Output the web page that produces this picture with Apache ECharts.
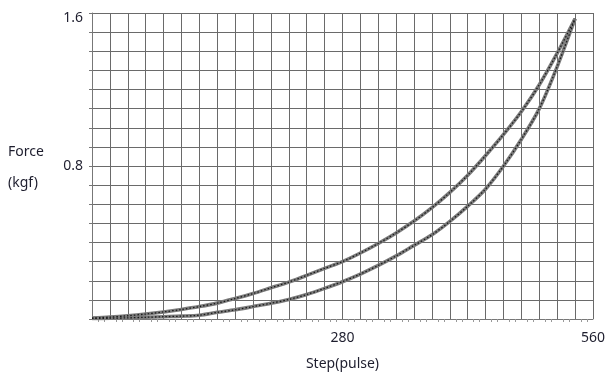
<!DOCTYPE html>
<html>
<head>
<meta charset="utf-8">
<script src="https://cdn.jsdelivr.net/npm/echarts@6/dist/echarts.min.js"></script>
<style>
  html, body { margin: 0; padding: 0; background: #fff; }
  #chart { width: 608px; height: 376px; }
</style>
</head>
<body>
<div id="chart"></div>
<script>
// Step positions (pulse) at which force was sampled
const steps = [0, 20, 40, 60, 80, 100, 120, 140, 160, 180, 200, 220, 240, 260,
               280, 300, 320, 340, 360, 380, 400, 420, 440, 460, 480, 500, 520, 540];
// Upper branch of the force loop (kgf)
const forceUpper = [0.005, 0.010, 0.017, 0.026, 0.037, 0.050, 0.065, 0.083, 0.107, 0.133,
                    0.163, 0.193, 0.228, 0.265, 0.300, 0.345, 0.395, 0.450, 0.512, 0.582,
                    0.662, 0.752, 0.855, 0.965, 1.085, 1.225, 1.390, 1.570];
// Lower branch of the force loop (kgf)
const forceLower = [0.003, 0.004, 0.006, 0.009, 0.012, 0.015, 0.020, 0.035, 0.048, 0.065,
                    0.082, 0.102, 0.128, 0.160, 0.195, 0.235, 0.280, 0.330, 0.385, 0.440,
                    0.510, 0.590, 0.680, 0.800, 0.940, 1.100, 1.320, 1.570];
// Axis labels that are printed
const xLabels = [280, 560];
const yLabels = [0.8, 1.6];

const pairs = arr => steps.map((s, i) => [s, arr[i]]);
const labelFont = { fontFamily: 'Noto Sans', fontSize: 14, color: '#1e1e2e' };

function curve(name, arr) {
  return [
    { name: name, type: 'line', data: pairs(arr), showSymbol: false, smooth: 0.3,
      lineStyle: { color: '#7c7c7c', width: 3.6 }, z: 3, animation: false },
    { name: name + '-dots', type: 'line', data: pairs(arr), showSymbol: false, smooth: 0.3,
      lineStyle: { color: '#1a1a1a', width: 1.3, type: [1.5, 2] }, z: 4, animation: false }
  ];
}

const chart = echarts.init(document.getElementById('chart'), null, { renderer: 'canvas' });
chart.setOption({
  backgroundColor: '#fff',
  animation: false,
  grid: { left: 92, right: 15, top: 13, bottom: 54 },
  xAxis: {
    type: 'value', min: 0, max: 560, interval: 20,
    axisLine: { show: true, lineStyle: { color: '#777', width: 1 } },
    axisTick: { show: false },
    minorTick: { show: true, splitNumber: 3, length: 3, lineStyle: { color: '#999' } },
    splitLine: { show: true, lineStyle: { color: '#6a6a6a', width: 1 } },
    axisLabel: {
      ...labelFont, margin: 12, showMinLabel: true, showMaxLabel: true,
      formatter: v => xLabels.some(l => Math.abs(l - v) < 1e-6) ? String(v) : ''
    },
    name: 'Step(pulse)', nameLocation: 'middle', nameGap: 38,
    nameTextStyle: { ...labelFont }
  },
  yAxis: {
    type: 'value', min: 0, max: 1.6, interval: 0.1,
    axisLine: { show: true, lineStyle: { color: '#777', width: 1 } },
    axisTick: { show: true, length: 3, lineStyle: { color: '#777' } },
    splitLine: { show: true, lineStyle: { color: '#6a6a6a', width: 1 } },
    axisLabel: {
      ...labelFont, margin: 9,
      formatter: v => {
        if (Math.abs(v - 1.6) < 1e-6) return '{top|1.6}';
        return yLabels.some(l => Math.abs(l - v) < 1e-6) ? v.toFixed(1) : '';
      },
      rich: { top: { ...labelFont, padding: [10, 0, 0, 0] } }
    }
  },
  graphic: [
    { type: 'text', left: 8, top: 145, style: { text: 'Force', font: '14px "Noto Sans"', fill: '#1e1e2e' } },
    { type: 'text', left: 8, top: 176, style: { text: '(kgf)', font: '14px "Noto Sans"', fill: '#1e1e2e' } }
  ],
  series: [...curve('upper', forceUpper), ...curve('lower', forceLower)]
});
</script>
</body>
</html>
